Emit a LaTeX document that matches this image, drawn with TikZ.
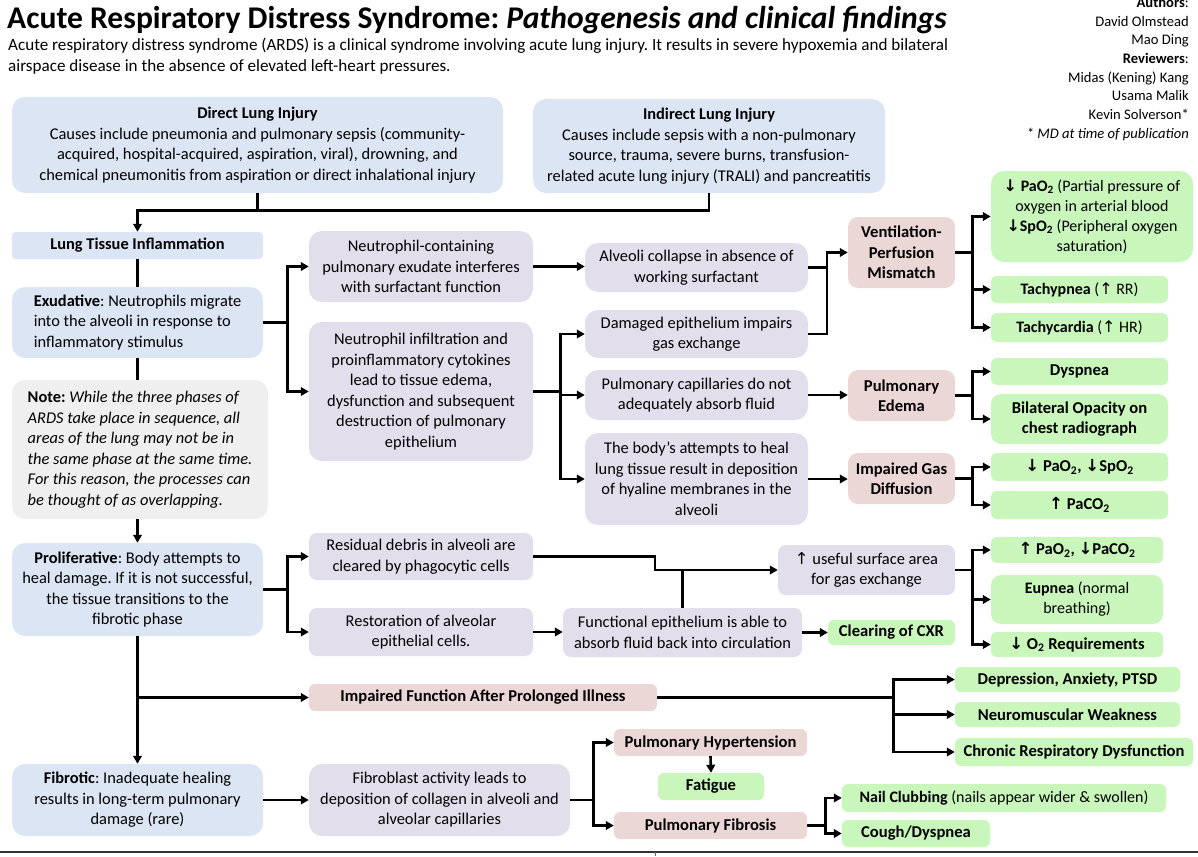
\documentclass[tikz,border=0pt]{standalone}
\usepackage{fontspec}
\setmainfont{Carlito}
\newfontfamily\symf{DejaVu Sans}
\usetikzlibrary{arrows.meta}
\frenchspacing
\newcommand\upa{{\symf\char"2191}}
\newcommand\dna{{\symf\char"2193}}
\newcommand\two{\textsubscript{2}}
\definecolor{cblue}{HTML}{DCE5F3}
\definecolor{cpurple}{HTML}{E3DEEB}
\definecolor{crose}{HTML}{EBD8D6}
\definecolor{cgreen}{HTML}{C9F6BB}
\definecolor{cgray}{HTML}{EFEFEF}
\tikzset{
  box/.style={inner sep=0pt, align=center, rounded corners=6pt,
    font=\fontsize{16.4}{20.5}\selectfont},
  bigbox/.style={box, rounded corners=13pt},
  blue/.style={box, fill=cblue},
  bigblue/.style={bigbox, fill=cblue},
  purple/.style={bigbox, fill=cpurple},
  rose/.style={box, fill=crose, font=\fontsize{16.6}{20.5}\selectfont\bfseries},
  green/.style={box, fill=cgreen, font=\fontsize{16}{20}\selectfont},
  gbold/.style={green, font=\fontsize{16.6}{20}\selectfont\bfseries},
  notebox/.style={bigbox, fill=cgray, align=left},
  line/.style={line width=2.6pt},
  arr/.style={line width=2.6pt, -{Triangle[length=8pt,width=8.5pt]}},
}
\begin{document}
\begin{tikzpicture}[x=1pt,y=-1pt]
\useasboundingbox (0,0) rectangle (1198,856);

% heading
\node[anchor=base west, inner sep=0pt, font=\fontsize{31.6}{36}\selectfont\bfseries] (title) at (7,29)
  {Acute Respiratory Distress Syndrome: \textit{Pathogenesis and clinical findings}};
\node[anchor=north west, inner sep=0pt, align=left, font=\fontsize{17.1}{21}\selectfont] (intro) at (8,38)
  {Acute respiratory distress syndrome (ARDS) is a clinical syndrome involving acute lung injury. It results in severe hypoxemia and bilateral\\
   airspace disease in the absence of elevated left-heart pressures.};
\node[anchor=north east, inner sep=0pt, align=right, font=\fontsize{14.6}{18.7}\selectfont] (authors) at (1189,-3)
  {\textbf{Authors}:\\David Olmstead\\Mao Ding\\\textbf{Reviewers}:\\Midas (Kening) Kang\\Usama Malik\\Kevin Solverson*\\\textit{* MD at time of publication}};

% causes
\node[bigblue, minimum width=491pt, minimum height=96pt] (direct) at (257.5,145)
  {\textbf{Direct Lung Injury}\\Causes include pneumonia and pulmonary sepsis (community-\\acquired, hospital-acquired, aspiration, viral), drowning, and\\chemical pneumonitis from aspiration or direct inhalational injury};
\node[bigblue, minimum width=352pt, minimum height=94pt] (indirect) at (709,146)
  {\textbf{Indirect Lung Injury}\\Causes include sepsis with a non-pulmonary\\source, trauma, severe burns, transfusion-\\related acute lung injury (TRALI) and pancreatitis};

% phases column
\node[blue, rounded corners=4pt, minimum width=251pt, minimum height=27pt, font=\fontsize{16.4}{20.5}\selectfont\bfseries] (lti) at (137.5,245.5) {Lung Tissue Inflammation};
\node[bigblue, align=left, minimum width=251pt, minimum height=71pt] (exud) at (137.5,322.5)
  {\textbf{Exudative}: Neutrophils migrate\\into the alveoli in response to\\inflammatory stimulus};
\node[notebox, minimum width=256pt, minimum height=139pt] (note) at (140,449.5)
  {\textbf{Note:} \textit{While the three phases of}\\\textit{ARDS take place in sequence, all}\\\textit{areas of the lung may not be in}\\\textit{the same phase at the same time.}\\\textit{For this reason, the processes can}\\\textit{be thought of as overlapping.}};
\node[bigblue, minimum width=251pt, minimum height=93pt] (prolif) at (137.5,589.5)
  {\textbf{Proliferative}: Body attempts to\\heal damage. If it is not successful,\\the tissue transitions to the\\fibrotic phase};
\node[bigblue, minimum width=251pt, minimum height=72pt] (fibrotic) at (137.5,800)
  {\textbf{Fibrotic}: Inadequate healing\\results in long-term pulmonary\\damage (rare)};

% exudative mechanisms
\node[purple, minimum width=224pt, minimum height=71pt] (neuA) at (421,266.5)
  {Neutrophil-containing\\pulmonary exudate interferes\\with surfactant function};
\node[purple, minimum width=224pt, minimum height=139pt] (neuB) at (421,391.5)
  {Neutrophil infiltration and\\proinflammatory cytokines\\lead to tissue edema,\\dysfunction and subsequent\\destruction of pulmonary\\epithelium};
\node[purple, minimum width=223pt, minimum height=49pt] (collapse) at (696.5,267.5)
  {Alveoli collapse in absence of\\working surfactant};
\node[purple, minimum width=223pt, minimum height=48pt] (damaged) at (696.5,334)
  {Damaged epithelium impairs\\gas exchange};
\node[purple, minimum width=223pt, minimum height=50pt] (capill) at (696.5,395)
  {Pulmonary capillaries do not\\adequately absorb fluid};
\node[purple, minimum width=223pt, minimum height=92pt] (hyaline) at (696.5,479)
  {The body’s attempts to heal\\lung tissue result in deposition\\of hyaline membranes in the\\alveoli};

\node[rose, rounded corners=10pt, minimum width=107pt, minimum height=71pt] (vq) at (901.5,252.5) {Ventilation-\\Perfusion\\Mismatch};
\node[rose, rounded corners=10pt, minimum width=107pt, minimum height=51pt] (edema) at (901.5,395.5) {Pulmonary\\Edema};
\node[rose, rounded corners=10pt, minimum width=107pt, minimum height=51pt] (igd) at (901.5,478.5) {Impaired Gas\\Diffusion};

\node[green, rounded corners=13pt, minimum width=202pt, minimum height=91pt] (g1) at (1092,216.5)
  {\textbf{\dna\ PaO\two} (Partial pressure of\\oxygen in arterial blood\\\textbf{\dna SpO\two} (Peripheral oxygen\\saturation)};
\node[green, minimum width=177pt, minimum height=27pt] (tachyp) at (1079.5,289.5) {\textbf{Tachypnea} (\upa\ RR)};
\node[green, minimum width=177pt, minimum height=29pt] (tachyc) at (1079.5,327.5) {\textbf{Tachycardia} (\upa\ HR)};
\node[gbold, minimum width=177pt, minimum height=27pt] (dysp) at (1079.5,371.5) {Dyspnea};
\node[gbold, rounded corners=10pt, minimum width=177pt, minimum height=50pt] (bilat) at (1079.5,419) {Bilateral Opacity on\\chest radiograph};
\node[gbold, minimum width=177pt, minimum height=28pt] (gpao) at (1079.5,467) {\dna\ PaO\two, \dna SpO\two};
\node[gbold, minimum width=177pt, minimum height=28pt] (gpaco) at (1079.5,505) {\upa\ PaCO\two};

% proliferative mechanisms
\node[purple, rounded corners=8pt, minimum width=224pt, minimum height=47pt] (debris) at (421,556.5)
  {Residual debris in alveoli are\\cleared by phagocytic cells};
\node[purple, rounded corners=8pt, minimum width=224pt, minimum height=48pt] (restor) at (421,632)
  {Restoration of alveolar\\epithelial cells.};
\node[purple, rounded corners=8pt, minimum width=177pt, minimum height=50pt] (surface) at (866.5,570)
  {\upa\ useful surface area\\for gas exchange};
\node[purple, rounded corners=8pt, minimum width=239pt, minimum height=49pt] (functional) at (682.5,632.5)
  {Functional epithelium is able to\\absorb fluid back into circulation};
\node[gbold, minimum width=127pt, minimum height=25pt] (cxr) at (891.5,632.5) {Clearing of CXR};
\node[gbold, minimum width=172pt, minimum height=26pt] (gup) at (1077,550) {\upa\ PaO\two, \dna PaCO\two};
\node[green, rounded corners=10pt, minimum width=172pt, minimum height=49pt] (eupnea) at (1077,599.5) {\textbf{Eupnea} (normal\\breathing)};
\node[gbold, minimum width=172pt, minimum height=25pt] (o2req) at (1077,644.5) {\dna\ O\two\ Requirements};

% long-term outcomes
\node[rose, minimum width=348pt, minimum height=27pt] (impaired) at (483,697.5) {Impaired Function After Prolonged Illness};
\node[gbold, minimum width=225pt, minimum height=25pt] (depr) at (1067.5,679.5) {Depression, Anxiety, PTSD};
\node[gbold, minimum width=225pt, minimum height=25pt] (neuro) at (1067.5,714.5) {Neuromuscular Weakness};
\node[gbold, minimum width=238pt, minimum height=28pt] (chronic) at (1074,752) {Chronic Respiratory Dysfunction};

\node[purple, minimum width=261pt, minimum height=72pt] (fibroblast) at (439.5,800)
  {Fibroblast activity leads to\\deposition of collagen in alveoli and\\alveolar capillaries};
\node[rose, minimum width=193pt, minimum height=27pt] (pht) at (710.5,742.5) {Pulmonary Hypertension};
\node[gbold, minimum width=106pt, minimum height=27pt] (fatigue) at (711,786.5) {Fatigue};
\node[rose, minimum width=193pt, minimum height=27pt] (pfib) at (710.5,825.5) {Pulmonary Fibrosis};
\node[green, minimum width=324pt, minimum height=28pt] (nail) at (1004,798) {\textbf{Nail Clubbing} (nails appear wider \& swollen)};
\node[gbold, minimum width=148pt, minimum height=27pt] (cough) at (916,833.5) {Cough/Dyspnea};

% connectors: causes to inflammation
\draw[line] (direct.south) -- ++(0,17);
\draw[arr] (indirect.south) -- ++(0,17) -| (lti.north);

% phase column
\draw[line] (lti.south) -- (exud.north);
\draw[line] (exud.south) -- (exud.south |- note.north);
\draw[arr] (exud.south |- note.south) -- (prolif.north);
\draw[arr] (prolif.south) -- (fibrotic.north);
\draw[arr] (prolif.south |- impaired.west) -- (impaired.west);

% exudative branches
\draw[arr] (exud.east) -- ++(24,0) coordinate (ej) |- (neuA.west);
\draw[arr] (ej) |- (neuB.west);
\draw[arr] (neuA.east) -- (neuA.east -| collapse.west);
\draw[arr] (neuB.east) -- ++(27,0) coordinate (nj) |- (damaged.west);
\draw[arr] (nj) |- (capill.west);
\draw[arr] (nj) |- (hyaline.west);
\coordinate (vqj) at (827,252.5);
\draw[line] (collapse.east) -- (collapse.east -| vqj);
\draw[arr] (damaged.east) -| (vqj) -- (vq.west);
\draw[arr] (capill.east) -- (capill.east -| edema.west);
\draw[arr] (hyaline.east) -- (hyaline.east -| igd.west);

\draw[arr] (vq.east) -- ++(17,0) coordinate (vj) |- (g1.west);
\draw[arr] (vj) |- (tachyp.west);
\draw[arr] (vj) |- (tachyc.west);
\draw[arr] (edema.east) -- ++(17,0) coordinate (ej2) |- (dysp.west);
\draw[arr] (ej2) |- (bilat.west);
\draw[arr] (igd.east) -- ++(17,0) coordinate (gj) |- (gpao.west);
\draw[arr] (gj) |- (gpaco.west);

% proliferative branches
\draw[arr] (prolif.east) -- ++(24,0) coordinate (pj) |- (debris.west);
\draw[arr] (pj) |- (restor.west);
\coordinate (dj) at (655,556.5);
\draw[arr] (debris.east) -- (dj) |- (surface.west);
\draw[line] (functional.north) -- (functional.north |- surface.west);
\draw[arr] (restor.east) -- (restor.east -| functional.west);
\draw[arr] (functional.east) -- (cxr.west);
\draw[arr] (surface.east) -- ++(17,0) coordinate (sj) |- (gup.west);
\draw[arr] (sj) |- (eupnea.west);
\draw[arr] (sj) |- (o2req.west);

% long-term branches
\draw[arr] (impaired.east) -- ++(236,0) coordinate (ij) |- (depr.west);
\draw[arr] (ij) |- (neuro.west);
\draw[arr] (ij) |- (chronic.west);
\draw[arr] (fibrotic.east) -- (fibrotic.east -| fibroblast.west);
\draw[arr] (fibroblast.east) -- ++(23,0) coordinate (fj) |- (pht.west);
\draw[arr] (fj) |- (pfib.west);
\draw[arr] (pht.south) -- (fatigue.north);
\draw[arr] (pfib.east) -- ++(18,0) coordinate (cj) |- (nail.west);
\draw[arr] (cj) |- (cough.west);

% page rule
\draw[line width=1.3pt, black!80] (0,852) -- (1198,852);
\draw[line width=0.8pt, black!60] (655,852) -- (655,856);
\end{tikzpicture}
\end{document}
